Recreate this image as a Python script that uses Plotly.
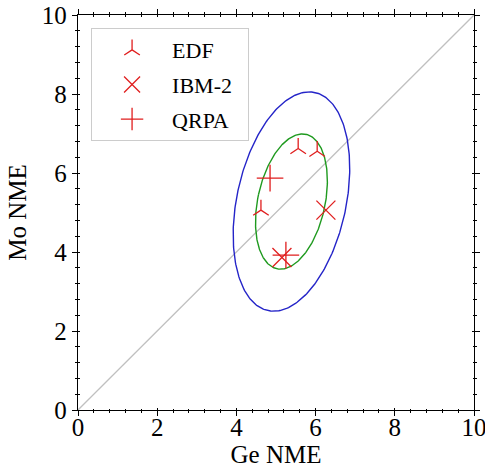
import numpy as np
import plotly.graph_objects as go

# Data
edf_ge = [5.56, 6.04, 4.62]
edf_mo = [6.62, 6.55, 5.06]
ibm_ge = [6.26, 5.15]
ibm_mo = [5.06, 3.86]
qrpa_ge = [4.85, 5.25]
qrpa_mo = [5.87, 3.92]
conf_levels_chi2 = [2.279, 5.991]   # 68% and 95% (2 dof)
ellipse_colors = ["#1f9a1f", "#2424c8"]
tick_vals = [0, 2, 4, 6, 8, 10]

FONT = "Liberation Serif"
RED = "#e01e1e"
PAD = "\u00a0" * 2

fig = go.Figure()

# diagonal reference line
fig.add_trace(go.Scatter(x=[0, 10], y=[0, 10], mode="lines",
                         line=dict(color="#c0c0c0", width=1.3),
                         showlegend=False, hoverinfo="skip"))

# confidence ellipses from all points
all_x = np.array(edf_ge + ibm_ge + qrpa_ge)
all_y = np.array(edf_mo + ibm_mo + qrpa_mo)
cov = np.cov(all_x, all_y)
mx, my = all_x.mean(), all_y.mean()
vals, vecs = np.linalg.eigh(cov)
t = np.linspace(0, 2 * np.pi, 300)
for chi2, col in zip(conf_levels_chi2, ellipse_colors):
    circ = np.vstack([np.cos(t), np.sin(t)])
    pts = vecs @ (np.sqrt(vals * chi2)[:, None] * circ)
    fig.add_trace(go.Scatter(x=mx + pts[0], y=my + pts[1], mode="lines",
                             line=dict(color=col, width=1.4),
                             showlegend=False, hoverinfo="skip"))

fig.add_trace(go.Scatter(x=edf_ge, y=edf_mo, mode="markers", name="EDF",
                         legendgroup="a",
                         marker=dict(symbol="y-up", size=13,
                                     line=dict(color=RED, width=1.3))))
fig.add_trace(go.Scatter(x=ibm_ge, y=ibm_mo, mode="markers",
                         name="IBM-2" + PAD, legendgroup="b",
                         marker=dict(symbol="x-thin", size=19,
                                     line=dict(color=RED, width=1.3))))
fig.add_trace(go.Scatter(x=qrpa_ge, y=qrpa_mo, mode="markers", name="QRPA",
                         legendgroup="c",
                         marker=dict(symbol="cross-thin", size=19,
                                     line=dict(color=RED, width=1.3))))

tickfont = dict(family=FONT, size=25, color="black")
axis_common = dict(range=[0, 10], showgrid=False, zeroline=False,
                   showline=True, linecolor="black", linewidth=1.3,
                   mirror="ticks", ticks="outside", ticklen=5, tickwidth=1.3,
                   tickcolor="black", tickvals=tick_vals, automargin=False,
                   ticklabeloverflow="allow",
                   minor=dict(dtick=0.4, ticks="outside", ticklen=2,
                              tickwidth=1.2, tickcolor="black"),
                   tickfont=tickfont)
inner_common = dict(range=[0, 10], showgrid=False, zeroline=False,
                    showline=False, mirror="ticks", ticks="inside",
                    ticklen=2, tickwidth=1.3, tickcolor="black",
                    tickvals=tick_vals, automargin=False,
                    ticklabeloverflow="allow", tickfont=tickfont,
                    minor=dict(dtick=0.4, ticks="inside", ticklen=1.5,
                               tickwidth=1.2, tickcolor="black"))

fig.update_layout(
    width=485, height=468,
    margin=dict(l=78, r=11, t=15, b=58),
    paper_bgcolor="white", plot_bgcolor="white",
    font=dict(family=FONT, size=22, color="black"),
    xaxis=dict(**axis_common, showticklabels=False),
    yaxis=dict(**axis_common,
               title=dict(text="Mo NME", font=dict(family=FONT, size=25),
                          standoff=8)),
    xaxis2=dict(**inner_common, overlaying="x", matches="x",
                showticklabels=True,
                title=dict(text="Ge NME", font=dict(family=FONT, size=25),
                           standoff=6)),
    yaxis2=dict(**inner_common, overlaying="y", matches="y",
                showticklabels=False),
    legend=dict(x=0.033, y=0.967, xanchor="left", yanchor="top",
                bordercolor="#cccccc", borderwidth=1, bgcolor="white",
                font=dict(family=FONT, size=22),
                itemwidth=70, tracegroupgap=3),
    showlegend=True,
)

# dummy trace to activate secondary axes (for in/out ticks)
fig.add_trace(go.Scatter(x=[None], y=[None], xaxis="x2", yaxis="y2",
                         showlegend=False, hoverinfo="skip"))

fig.write_html("out.html")
